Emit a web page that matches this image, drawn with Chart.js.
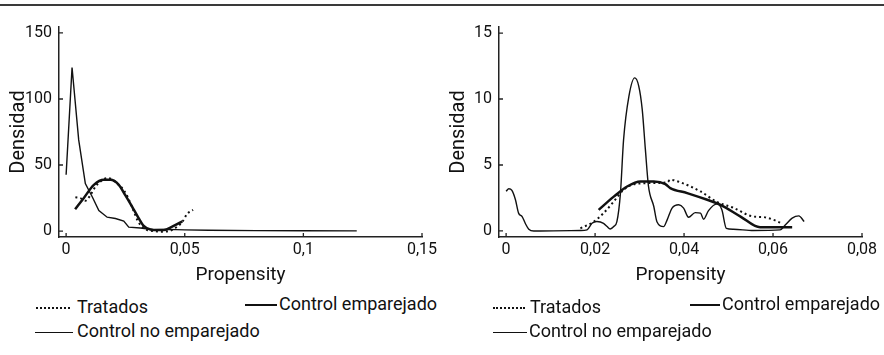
<!DOCTYPE html>
<html>
<head>
<meta charset="utf-8">
<script src="https://cdn.jsdelivr.net/npm/chart.js@4.4.1/dist/chart.umd.min.js"></script>
<style>
  body { margin: 0; width: 884px; height: 355px; background: #fff; position: relative; overflow: hidden;
         font-family: Roboto, sans-serif; color: #111; }
  .rule { position: absolute; left: 0; top: 4px; width: 884px; height: 2px; background: #3a3a3a; }
  canvas { position: absolute; top: 0; }
  .leg { position: absolute; font-size: 18px; line-height: 20px; white-space: nowrap; }
  .leg i { display: inline-block; vertical-align: middle; }
  .dots i { border-top: 2px dotted #111; }
  .thick i { border-top: 2.5px solid #111; }
  .thin i { border-top: 1.5px solid #111; }
</style>
</head>
<body>
<div class="rule"></div>
<canvas id="left" width="442" height="290" style="left:0"></canvas>
<canvas id="right" width="442" height="290" style="left:440px"></canvas>

<div class="leg dots" style="left:36px;top:297px"><i style="width:34px;margin-right:7px"></i>Tratados</div>
<div class="leg thick" style="left:245px;top:294px"><i style="width:32px;margin-right:2px"></i>Control emparejado</div>
<div class="leg thin" style="left:35px;top:321px"><i style="width:38px;margin-right:4px"></i>Control no emparejado</div>

<div class="leg dots" style="left:493px;top:297px"><i style="width:32px;margin-right:5px"></i>Tratados</div>
<div class="leg thick" style="left:690px;top:294px"><i style="width:30px;margin-right:2px"></i>Control emparejado</div>
<div class="leg thin" style="left:493px;top:321px"><i style="width:34px;margin-right:2px"></i>Control no emparejado</div>

<script>
"use strict";

// panel izquierdo
const leftXTicks = [0, 0.05, 0.1, 0.15];
const leftXLabels = ["0", "0,05", "0,1", "0,15"];
const leftYTicks = [0, 50, 100, 150];

const leftTratadosX = [0.0039, 0.006, 0.0081, 0.0103, 0.0124, 0.0145, 0.0173, 0.0194, 0.0215, 0.0243, 0.0264, 0.0285, 0.03, 0.0313, 0.0342, 0.037, 0.0398, 0.0433, 0.0468, 0.049, 0.051, 0.0535];
const leftTratadosY = [25.6, 24.9, 23, 27.4, 33.7, 37.5, 40.1, 39, 36, 31, 24, 15, 8.4, 4.6, 0.8, 0, -0.5, 0, 3.3, 7, 13, 16];

const leftEmparejadoX = [0.0038, 0.0074, 0.0117, 0.0159, 0.0187, 0.0222, 0.025, 0.0278, 0.0305, 0.0327, 0.0355, 0.0384, 0.0412, 0.0447, 0.049];
const leftEmparejadoY = [16.5, 24.9, 35, 38.8, 38.8, 35, 27, 18.5, 10, 4, 1.2, 0.8, 0.8, 3.3, 7.3];

const leftNoEmparejadoX = [0, 0.0025, 0.0053, 0.0081, 0.011, 0.0138, 0.0173, 0.0208, 0.0243, 0.0264, 0.0313, 0.037, 0.0426, 0.05, 0.06, 0.08, 0.1, 0.1225];
const leftNoEmparejadoY = [42.6, 123.8, 69, 36, 26, 15.5, 10.5, 9.5, 7.5, 3, 2.3, 1, 1.3, 0.9, 0.6, 0.3, 0.2, 0.1];

// panel derecho
const rightXTicks = [0, 0.02, 0.04, 0.06, 0.08];
const rightXLabels = ["0", "0,02", "0,04", "0,06", "0,08"];
const rightYTicks = [0, 5, 10, 15];

const rightTratadosX = [0.0167, 0.0197, 0.0219, 0.0242, 0.0264, 0.0294, 0.0332, 0.0362, 0.0369, 0.0392, 0.0437, 0.0474, 0.0511, 0.0556, 0.0579, 0.0601, 0.0616];
const rightTratadosY = [0.2, 0.7, 1.35, 2.23, 3.12, 3.58, 3.63, 3.68, 3.88, 3.68, 2.99, 2.2, 1.75, 1.09, 1.05, 0.84, 0.63];

const rightEmparejadoX = [0.0208, 0.0242, 0.0272, 0.0302, 0.0332, 0.0358, 0.0369, 0.0407, 0.0452, 0.0482, 0.0527, 0.0571, 0.0643];
const rightEmparejadoY = [1.6, 2.6, 3.37, 3.75, 3.75, 3.55, 3.25, 2.87, 2.36, 1.98, 1.09, 0.27, 0.27];

const rightNoEmparejadoX = [0, 0.0006, 0.0013, 0.0021, 0.0028, 0.0036, 0.0043, 0.0051, 0.0062, 0.0077, 0.0167, 0.0182, 0.0193, 0.0204, 0.0219, 0.0227, 0.0234, 0.0242, 0.0249, 0.0257, 0.0264, 0.0276, 0.0289, 0.0298, 0.0306, 0.0313, 0.032, 0.0332, 0.0339, 0.0354, 0.0362, 0.0373, 0.0388, 0.0399, 0.041, 0.0425, 0.0437, 0.0444, 0.0455, 0.0474, 0.0485, 0.0495, 0.0511, 0.0556, 0.0616, 0.0628, 0.0643, 0.0658, 0.067];
const rightNoEmparejadoY = [3.0, 3.2, 3.07, 2.36, 1.35, 1.09, 0.58, 0.13, 0, 0, 0.03, 0.08, 0.58, 0.71, 0.58, 0.33, 0.15, 0.33, 0.7, 2.87, 6.9, 10.2, 11.6, 11.0, 9.2, 6.2, 3.4, 1.85, 0.7, 0.33, 0.84, 1.73, 1.98, 1.73, 1.04, 1.39, 1.35, 0.89, 1.54, 2.05, 1.6, 0.2, 0.13, 0.03, 0.08, 0.46, 0.97, 1.14, 0.71];

Chart.defaults.font.family = "Roboto, sans-serif";
Chart.defaults.color = "#111";

function pts(xs, ys) {
  return xs.map((x, i) => ({ x: x, y: ys[i] }));
}

// marcas de los ticks hacia dentro
const innerTicks = {
  id: "innerTicks",
  afterDraw(chart) {
    const ctx = chart.ctx;
    const a = chart.chartArea;
    ctx.save();
    ctx.strokeStyle = "#222";
    ctx.lineWidth = 1.3;
    ctx.beginPath();
    chart.scales.x.ticks.forEach((t) => {
      const px = chart.scales.x.getPixelForValue(t.value);
      ctx.moveTo(px, a.bottom);
      ctx.lineTo(px, a.bottom - 4);
    });
    chart.scales.y.ticks.forEach((t) => {
      const py = chart.scales.y.getPixelForValue(t.value);
      ctx.moveTo(a.left, py);
      ctx.lineTo(a.left + 4, py);
    });
    ctx.stroke();
    ctx.restore();
  },
};

function makeChart(id, p) {
  new Chart(document.getElementById(id), {
    type: "line",
    data: {
      datasets: [
        {
          label: "Tratados",
          data: pts(p.tx, p.ty),
          borderColor: "#111",
          borderWidth: 2,
          borderDash: [2, 3],
          cubicInterpolationMode: "monotone",
        },
        {
          label: "Control emparejado",
          data: pts(p.ex, p.ey),
          borderColor: "#111",
          borderWidth: 2.5,
          cubicInterpolationMode: "monotone",
        },
        {
          label: "Control no emparejado",
          data: pts(p.nx, p.ny),
          borderColor: "#111",
          borderWidth: 1.4,
          tension: p.thinTension,
          cubicInterpolationMode: p.thinTension ? "monotone" : "default",
        },
      ],
    },
    options: {
      responsive: false,
      animation: false,
      devicePixelRatio: 1,
      elements: { point: { radius: 0 } },
      layout: { padding: { top: 27, right: 20, left: 0, bottom: 0 } },
      plugins: { legend: { display: false }, tooltip: { enabled: false } },
      scales: {
        x: {
          type: "linear",
          min: p.xmin,
          max: p.xmax,
          afterBuildTicks: (s) => { s.ticks = p.xTicks.map((v) => ({ value: v })); },
          afterFit: (s) => { s.height = 53; },
          ticks: {
            font: { size: 16 },
            padding: 3,
            maxRotation: 0,
            callback: (v) => p.xLabels[p.xTicks.indexOf(v)],
          },
          grid: { display: false, drawTicks: false },
          border: { color: "#222", width: 1.5 },
          title: { display: true, text: "Propensity", font: { size: 19 }, padding: { top: 0, bottom: 3 } },
        },
        y: {
          min: p.ymin,
          max: p.ymax,
          afterBuildTicks: (s) => { s.ticks = p.yTicks.map((v) => ({ value: v })); },
          afterFit: (s) => { s.width = 59; },
          ticks: { font: { size: 16 }, padding: 7 },
          grid: { display: false, drawTicks: false },
          border: { color: "#222", width: 1.5 },
          title: { display: true, text: "Densidad", font: { size: 20 }, padding: { top: 7, bottom: 0 } },
        },
      },
    },
    plugins: [innerTicks],
  });
}

makeChart("left", {
  tx: leftTratadosX, ty: leftTratadosY,
  ex: leftEmparejadoX, ey: leftEmparejadoY,
  nx: leftNoEmparejadoX, ny: leftNoEmparejadoY,
  thinTension: 0,
  xmin: -0.003, xmax: 0.15, ymin: -4.5, ymax: 154.5,
  xTicks: leftXTicks, xLabels: leftXLabels, yTicks: leftYTicks,
});

makeChart("right", {
  tx: rightTratadosX, ty: rightTratadosY,
  ex: rightEmparejadoX, ey: rightEmparejadoY,
  nx: rightNoEmparejadoX, ny: rightNoEmparejadoY,
  thinTension: 0.4,
  xmin: -0.0016, xmax: 0.08, ymin: -0.46, ymax: 15.46,
  xTicks: rightXTicks, xLabels: rightXLabels, yTicks: rightYTicks,
});
</script>
</body>
</html>
